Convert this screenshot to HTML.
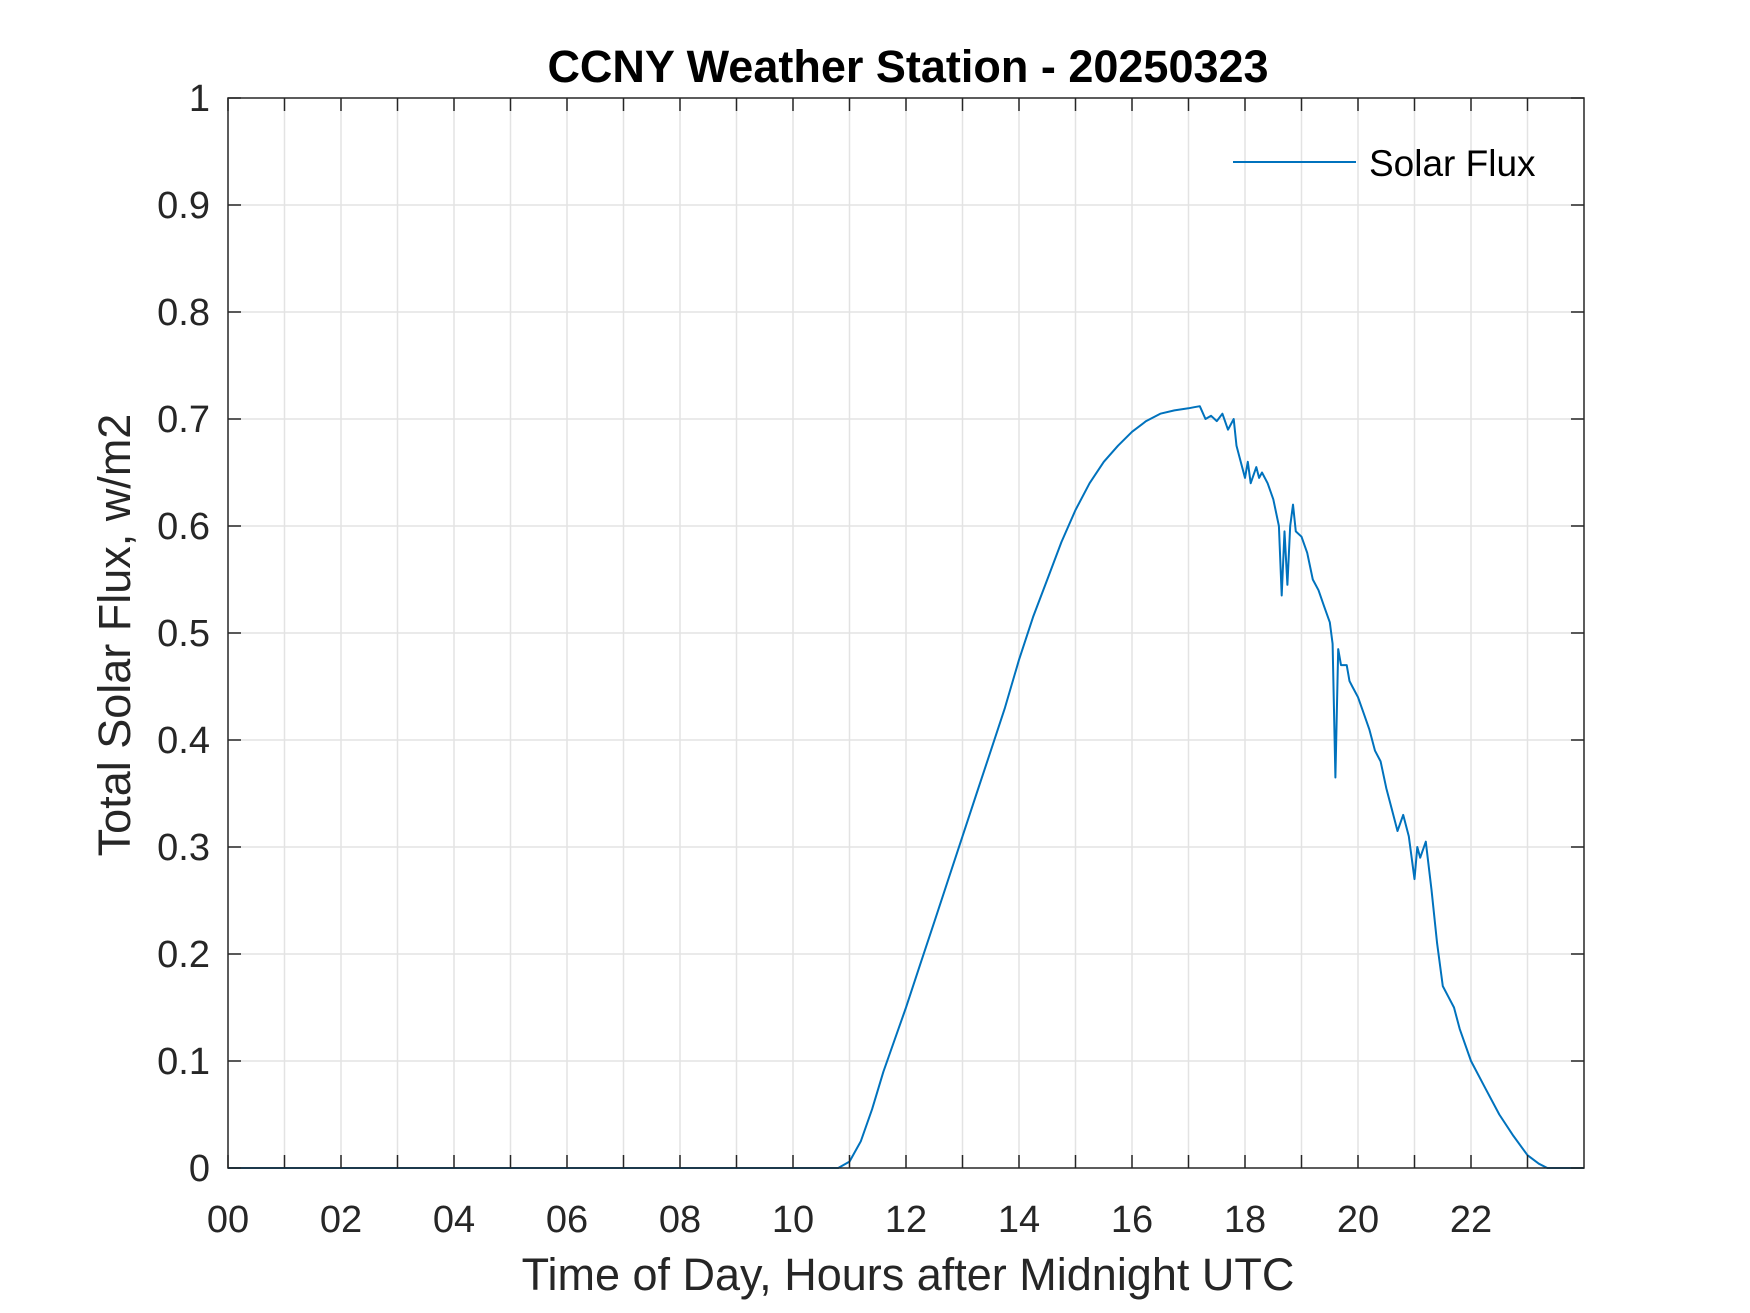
<!DOCTYPE html>
<html><head><meta charset="utf-8"><style>
html,body{margin:0;padding:0;background:#fff;}
svg{display:block;}
text{font-family:"Liberation Sans",Arial,sans-serif;fill:#262626;}
</style></head><body>
<svg id="chart" width="1750" height="1313" viewBox="0 0 1750 1313">
<rect width="1750" height="1313" fill="#fff"/>
<g id="grid"></g>
<g id="series"></g>
<g id="axes"></g>
<text x="908" y="82" text-anchor="middle" font-size="45" font-weight="bold" style="fill:#000">CCNY Weather Station - 20250323</text>
<text x="908" y="1290" text-anchor="middle" font-size="45">Time of Day, Hours after Midnight UTC</text>
<text transform="translate(130,635) rotate(-90)" text-anchor="middle" font-size="45">Total Solar Flux, w/m2</text>
<g>
<line x1="1233" y1="162" x2="1356" y2="162" stroke="#0072BD" stroke-width="2"/>
<text x="1369" y="176" font-size="37" style="fill:#000">Solar Flux</text>
</g>
</svg>
<script>
const hours = [0,10.8,11.0,11.2,11.4,11.6,11.8,12.0,12.25,12.5,12.75,13.0,13.25,13.5,13.75,14.0,14.25,14.5,14.75,15.0,15.25,15.5,15.75,16.0,16.25,16.5,16.75,17.0,17.1,17.2,17.3,17.4,17.5,17.6,17.7,17.8,17.85,17.9,18.0,18.05,18.1,18.2,18.25,18.3,18.4,18.5,18.6,18.65,18.7,18.75,18.8,18.85,18.9,19.0,19.1,19.2,19.3,19.4,19.5,19.55,19.6,19.65,19.7,19.8,19.85,19.9,20.0,20.1,20.2,20.3,20.4,20.5,20.6,20.7,20.8,20.9,21.0,21.05,21.1,21.2,21.3,21.4,21.5,21.6,21.7,21.8,22.0,22.25,22.5,22.75,23.0,23.2,23.35,24];
const flux = [0,0,0.006,0.025,0.055,0.09,0.12,0.15,0.19,0.23,0.27,0.31,0.35,0.39,0.43,0.475,0.515,0.55,0.585,0.615,0.64,0.66,0.675,0.688,0.698,0.705,0.708,0.71,0.711,0.712,0.70,0.703,0.698,0.705,0.69,0.70,0.675,0.665,0.645,0.66,0.64,0.655,0.645,0.65,0.64,0.625,0.60,0.535,0.595,0.545,0.60,0.62,0.595,0.59,0.575,0.55,0.54,0.525,0.51,0.49,0.365,0.485,0.47,0.47,0.455,0.45,0.44,0.425,0.41,0.39,0.38,0.355,0.335,0.315,0.33,0.31,0.27,0.30,0.29,0.305,0.26,0.21,0.17,0.16,0.15,0.13,0.10,0.075,0.05,0.03,0.012,0.004,0,0];
const xTicks = [0,1,2,3,4,5,6,7,8,9,10,11,12,13,14,15,16,17,18,19,20,21,22,23];
const xTickLabels = ["00","","02","","04","","06","","08","","10","","12","","14","","16","","18","","20","","22",""];
const yTicks = [0,0.1,0.2,0.3,0.4,0.5,0.6,0.7,0.8,0.9,1];
const yTickLabels = ["0","0.1","0.2","0.3","0.4","0.5","0.6","0.7","0.8","0.9","1"];

const L=228,R=1584,T=98,B=1168,XMAX=24;
const sx=v=>L+(v/XMAX)*(R-L);
const sy=v=>B-v*(B-T);
const NS="http://www.w3.org/2000/svg";
function mk(tag,parent,attrs){const e=document.createElementNS(NS,tag);for(const k in attrs)e.setAttribute(k,attrs[k]);parent.appendChild(e);return e;}
const grid=document.getElementById('grid'),axes=document.getElementById('axes'),series=document.getElementById('series');
xTicks.forEach((t,i)=>{
  const x=sx(t);
  if(t>0){const g=mk('line',grid,{x1:x,y1:T,x2:x,y2:B,stroke:'#e3e3e3','stroke-width':1.5});
  
  }
  const a=mk('line',axes,{x1:x,y1:B,x2:x,y2:B-13,stroke:'#262626','stroke-width':1.5});
  
  
  const b=mk('line',axes,{x1:x,y1:T,x2:x,y2:T+13,stroke:'#262626','stroke-width':1.5});
  
  
  if(xTickLabels[i]){const tx=mk('text',axes,{x:x,y:1232,'text-anchor':'middle','font-size':38});tx.textContent=xTickLabels[i];
  
  }
});
yTicks.forEach((t,i)=>{
  const y=sy(t);
  if(t>0&&t<1){const g=mk('line',grid,{x1:L,y1:y,x2:R,y2:y,stroke:'#e3e3e3','stroke-width':1.5});
  
  }
  const a=mk('line',axes,{x1:L,y1:y,x2:L+13,y2:y,stroke:'#262626','stroke-width':1.5});
  
  
  const b=mk('line',axes,{x1:R,y1:y,x2:R-13,y2:y,stroke:'#262626','stroke-width':1.5});
  
  
  const tx=mk('text',axes,{x:210,y:y+13,'text-anchor':'end','font-size':38});tx.textContent=yTickLabels[i];
  
  
});
const box=mk('rect',axes,{x:L,y:T,width:R-L,height:B-T,fill:'none',stroke:'#262626','stroke-width':1.5});


const pts=hours.map((h,i)=>sx(h).toFixed(1)+','+sy(flux[i]).toFixed(1)).join(' ');
const line=mk('polyline',series,{points:pts,fill:'none',stroke:'#0072BD','stroke-width':2,'stroke-linejoin':'round'});


</script>
</body></html>
